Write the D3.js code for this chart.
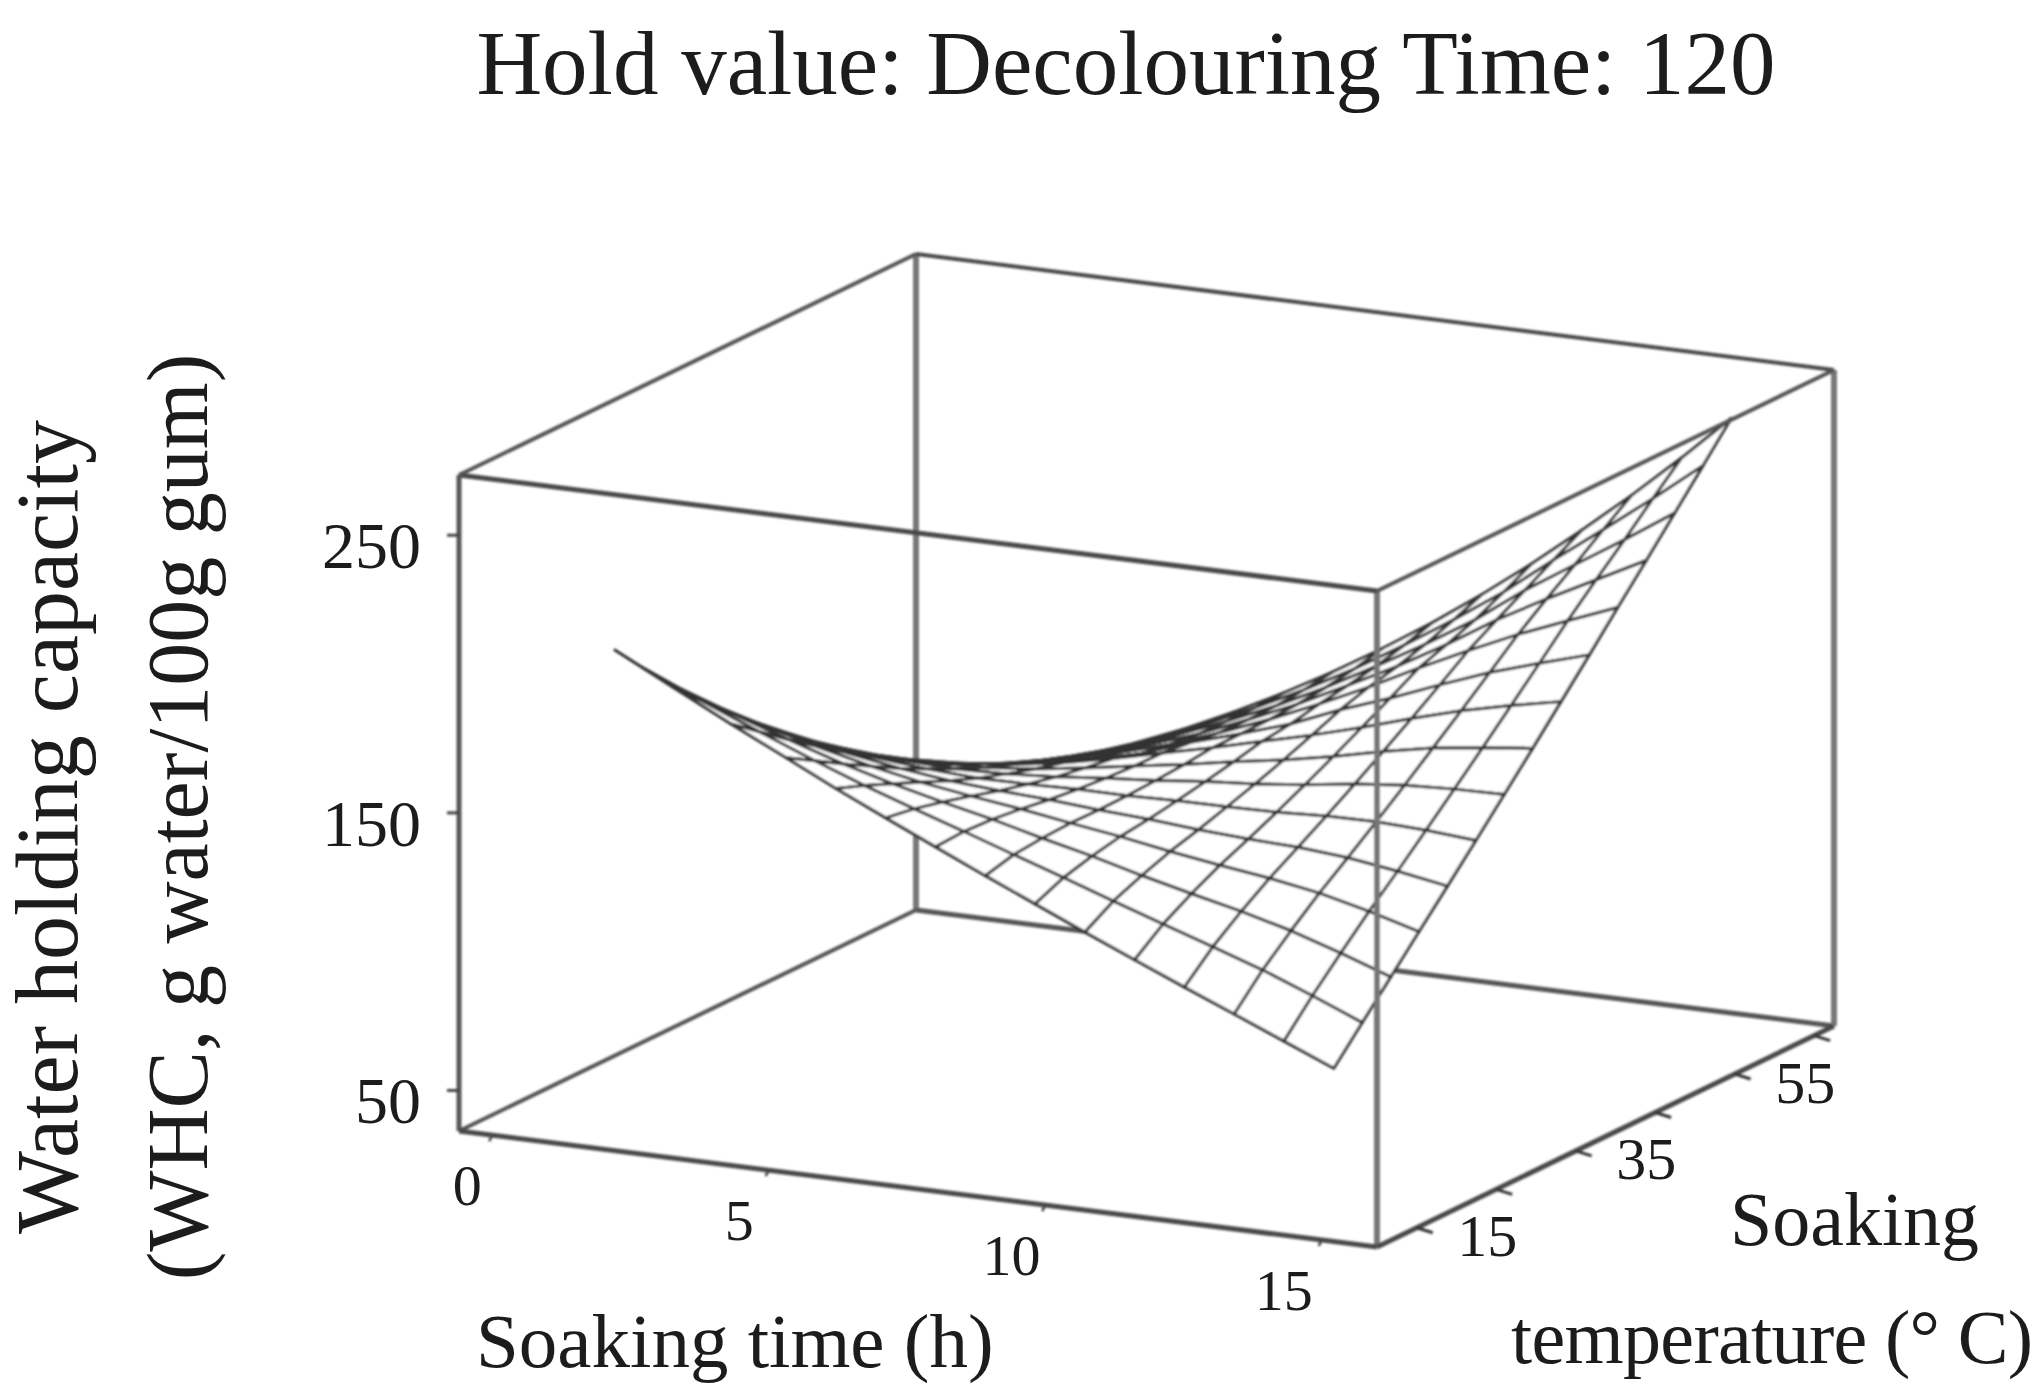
<!DOCTYPE html>
<html>
<head>
<meta charset="utf-8">
<style>
  body { margin: 0; background: #fff; }
  text { font-family: "Liberation Serif", serif; fill: #1c1c1c; }
</style>
<script src="https://cdn.jsdelivr.net/npm/d3@7"></script>
</head>
<body>
<svg width="2043" height="1400"></svg>
<script>
var title = "Hold value: Decolouring Time: 120";

var timeDomain = [-0.6, 16];
var tempDomain = [0, 57.5];
var whcDomain = [35.4, 271.7];
var timeTicks = [0, 5, 10, 15];
var tempTicks = [5, 15, 25, 35, 45, 55];
var tempLabels = [15, 35, 55];
var whcTicks = [50, 150, 250];

// grid of the surface
var soakingTimes = [1.5, 2.55, 3.6, 4.6, 5.5, 6.4, 7.3, 8.2, 9.1, 10, 10.9, 11.8, 12.7, 13.6, 14.5];
var soakingTemps = [5, 8.57, 12.14, 15.71, 19.29, 22.86, 26.43, 30, 33.57, 37.14, 40.71, 44.29, 47.86, 51.43, 55];

var whc = [
  [207, 196.3, 185.7, 176.0, 167.2, 158.9, 150.7, 142.6, 134.7, 126.8, 119.1, 111.5, 104.1, 96.6, 89.1],
  [195.6, 186.5, 177.9, 170.0, 163.3, 157.2, 151.3, 145.2, 139.2, 133.0, 127.0, 121.1, 115.0, 108.0, 100.6],
  [184.7, 177.3, 170.2, 163.9, 159.0, 154.7, 150.7, 146.2, 142.0, 137.3, 133.0, 128.9, 124.2, 118.4, 112.1],
  [174.3, 168.4, 162.8, 158.1, 154.6, 151.9, 149.5, 146.7, 144.1, 141.0, 138.3, 135.9, 132.8, 128.5, 123.5],
  [164.5, 160.0, 155.7, 152.4, 150.2, 148.9, 147.9, 146.5, 145.4, 143.9, 142.8, 142.1, 140.6, 138.0, 134.9],
  [155.2, 151.9, 149.0, 147.2, 146.2, 146.3, 146.7, 146.7, 147.1, 147.2, 147.5, 148.4, 148.6, 147.8, 146.4],
  [146.4, 144.5, 142.9, 142.3, 142.8, 144.0, 145.8, 147.2, 149.1, 150.5, 152.5, 155.0, 156.8, 157.7, 158.0],
  [138.1, 137.4, 137.2, 137.9, 139.6, 142.2, 145.2, 148.0, 151.3, 154.2, 157.7, 161.8, 165.3, 167.7, 169.7],
  [130.4, 130.9, 132.0, 134.0, 136.9, 140.7, 145.0, 149.1, 153.7, 158.2, 163.2, 168.7, 173.8, 177.9, 181.6],
  [123.2, 124.6, 126.7, 129.6, 133.2, 137.6, 143.9, 149.2, 155.0, 162.4, 168.8, 175.9, 182.6, 188.2, 193.5],
  [116.5, 118.9, 122.2, 126.1, 130.7, 135.9, 142.4, 149.4, 157.2, 165.6, 174.7, 183.3, 191.4, 198.6, 205.6],
  [110.3, 113.8, 118.2, 123.1, 128.6, 134.7, 142.1, 150.0, 158.9, 168.1, 178.3, 189.4, 199.2, 208.4, 217.6],
  [104.7, 109.1, 114.7, 120.7, 127.1, 134.3, 142.2, 151.1, 160.9, 171.2, 182.3, 195.2, 206.6, 217.9, 229.7],
  [99.6, 105.0, 111.5, 118.6, 126.0, 134.2, 143.1, 152.8, 163.6, 175.1, 187.3, 201.1, 214.3, 227.8, 241.8],
  [95, 101.5, 108.9, 117.1, 125.5, 134.6, 144.5, 155.3, 166.8, 179.3, 192.6, 206.9, 221.7, 237.4, 254]
];

var svg = d3.select("svg");

// the chart is a parallel projection, so each axis is just a pair of linear scales
var origin = {x: 459, y: 1131};
var timeX = d3.scaleLinear().domain(timeDomain).range([0, 918]);
var timeY = d3.scaleLinear().domain(timeDomain).range([0, 116]);
var tempX = d3.scaleLinear().domain(tempDomain).range([0, 457]);
var tempY = d3.scaleLinear().domain(tempDomain).range([0, -221]);
var whcY = d3.scaleLinear().domain(whcDomain).range([0, -656]);

function px(t, T) { return origin.x + timeX(t) + tempX(T); }
function py(t, T, w) { return origin.y + timeY(t) + tempY(T) + whcY(w); }

var line = d3.line()
    .x(function(d) { return px(d[0], d[1]); })
    .y(function(d) { return py(d[0], d[1], d[2]); });

// soften everything a little, the source is a scan
var defs = svg.append("defs");
defs.append("filter").attr("id", "soft")
    .append("feGaussianBlur").attr("stdDeviation", 0.8);
defs.append("filter").attr("id", "softText")
    .append("feGaussianBlur").attr("stdDeviation", 0.6);

var marks = svg.append("g").attr("filter", "url(#soft)");

function edge(parent, a, b, width, color) {
  parent.append("path")
      .attr("d", line([a, b]))
      .attr("fill", "none")
      .attr("stroke", color)
      .attr("stroke-width", width);
}

var t0 = timeDomain[0], t1 = timeDomain[1];
var T0 = tempDomain[0], T1 = tempDomain[1];
var w0 = whcDomain[0], w1 = whcDomain[1];

// box edges behind the surface
edge(marks, [t0, T1, w0], [t0, T1, w1], 6, "#777");
edge(marks, [t0, T1, w0], [t1, T1, w0], 5, "#555");
edge(marks, [t0, T0, w0], [t0, T1, w0], 4, "#555");

// surface, far cells first so the near ones hide them
var cells = [];
for (var j = soakingTemps.length - 2; j >= 0; j--) {
  for (var i = 0; i < soakingTimes.length - 1; i++) {
    cells.push([
      [soakingTimes[i], soakingTemps[j], whc[j][i]],
      [soakingTimes[i + 1], soakingTemps[j], whc[j][i + 1]],
      [soakingTimes[i + 1], soakingTemps[j + 1], whc[j + 1][i + 1]],
      [soakingTimes[i], soakingTemps[j + 1], whc[j + 1][i]]
    ]);
  }
}

marks.append("g").selectAll(".cell")
    .data(cells)
    .enter()
    .append("path")
    .attr("class", "cell")
    .attr("d", function(d) { return line(d) + "Z"; })
    .attr("fill", "#fff")
    .attr("stroke", "#333")
    .attr("stroke-width", 3)
    .attr("stroke-linejoin", "round");

// front edges
edge(marks, [t1, T0, w0], [t1, T0, w1], 6, "#777");
edge(marks, [t0, T0, w0], [t0, T0, w1], 5, "#555");
edge(marks, [t1, T1, w0], [t1, T1, w1], 6, "#777");
edge(marks, [t0, T0, w1], [t1, T0, w1], 5, "#4a4a4a");
edge(marks, [t0, T1, w1], [t1, T1, w1], 4, "#4a4a4a");
edge(marks, [t0, T0, w1], [t0, T1, w1], 4, "#555");
edge(marks, [t1, T0, w1], [t1, T1, w1], 4, "#555");
edge(marks, [t0, T0, w0], [t1, T0, w0], 5, "#4a4a4a");
edge(marks, [t1, T0, w0], [t1, T1, w0], 5, "#4a4a4a");

// ticks
marks.selectAll(".whcTick")
    .data(whcTicks)
    .enter()
    .append("line")
    .attr("class", "whcTick")
    .attr("x1", px(t0, T0))
    .attr("x2", px(t0, T0) - 12)
    .attr("y1", function(d) { return py(t0, T0, d); })
    .attr("y2", function(d) { return py(t0, T0, d); })
    .attr("stroke", "#444")
    .attr("stroke-width", 3);

marks.selectAll(".timeTick")
    .data(timeTicks)
    .enter()
    .append("line")
    .attr("class", "timeTick")
    .attr("x1", function(d) { return px(d, T0); })
    .attr("x2", function(d) { return px(d, T0) - 3; })
    .attr("y1", function(d) { return py(d, T0, w0); })
    .attr("y2", function(d) { return py(d, T0, w0) + 6; })
    .attr("stroke", "#444")
    .attr("stroke-width", 2.5);

marks.selectAll(".tempTick")
    .data(tempTicks)
    .enter()
    .append("line")
    .attr("class", "tempTick")
    .attr("x1", function(d) { return px(t1, d); })
    .attr("x2", function(d) { return px(t1, d) + 16; })
    .attr("y1", function(d) { return py(t1, d, w0); })
    .attr("y2", function(d) { return py(t1, d, w0) + 5; })
    .attr("stroke", "#333")
    .attr("stroke-width", 3);

// tick labels
var labels = svg.append("g").attr("filter", "url(#softText)");
var timeLabelShift = d3.scaleLinear().domain([0, 15]).range([-25, -38]);

labels.selectAll(".whcLabel")
    .data(whcTicks)
    .enter()
    .append("text")
    .attr("class", "whcLabel")
    .attr("x", 421)
    .attr("y", function(d) { return py(t0, T0, d) + 33; })
    .attr("text-anchor", "end")
    .attr("font-size", 66)
    .text(function(d) { return d; });

labels.selectAll(".timeLabel")
    .data(timeTicks)
    .enter()
    .append("text")
    .attr("class", "timeLabel")
    .attr("x", function(d) { return px(d, T0) + timeLabelShift(d); })
    .attr("y", function(d) { return py(d, T0, w0) + 70; })
    .attr("text-anchor", "middle")
    .attr("font-size", 58)
    .text(function(d) { return d; });

labels.selectAll(".tempLabel")
    .data(tempLabels)
    .enter()
    .append("text")
    .attr("class", "tempLabel")
    .attr("x", function(d) { return px(t1, d) - 9; })
    .attr("y", function(d) { return py(t1, d, w0) + 67; })
    .attr("text-anchor", "middle")
    .attr("font-size", 60)
    .text(function(d) { return d; });

// titles
labels.append("text")
    .attr("x", 1126).attr("y", 94)
    .attr("text-anchor", "middle")
    .attr("font-size", 91)
    .text(title);

labels.append("text")
    .attr("transform", "translate(77,827) rotate(-90)")
    .attr("text-anchor", "middle")
    .attr("font-size", 88)
    .text("Water holding capacity");

labels.append("text")
    .attr("transform", "translate(207,817) rotate(-90)")
    .attr("text-anchor", "middle")
    .attr("font-size", 86)
    .text("(WHC, g water/100g gum)");

labels.append("text")
    .attr("x", 476).attr("y", 1367)
    .attr("font-size", 77)
    .text("Soaking time (h)");

labels.append("text")
    .attr("x", 1730).attr("y", 1245)
    .attr("font-size", 76)
    .text("Soaking");

labels.append("text")
    .attr("x", 1511).attr("y", 1363)
    .attr("font-size", 76)
    .attr("textLength", 522)
    .text("temperature (\u00b0 C)");
</script>
</body>
</html>
